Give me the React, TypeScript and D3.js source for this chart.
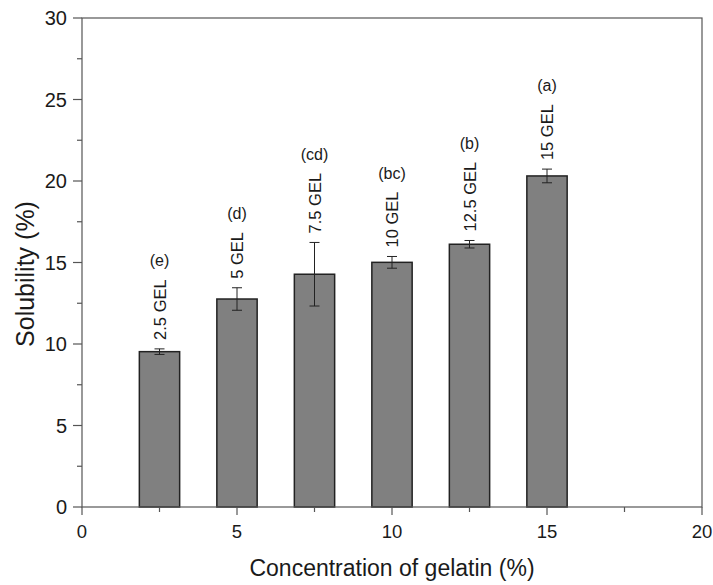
import React, { useEffect, useRef } from "react";
import * as d3 from "d3";

// data
const concentrations = [2.5, 5, 7.5, 10, 12.5, 15];
const solubility = [9.53, 12.76, 14.28, 15.01, 16.12, 20.31];
const errors = [0.17, 0.69, 1.95, 0.36, 0.23, 0.42];
const barNames = ["2.5 GEL", "5 GEL", "7.5 GEL", "10 GEL", "12.5 GEL", "15 GEL"];
const groups = ["(e)", "(d)", "(cd)", "(bc)", "(b)", "(a)"];
const xTicks = [0, 5, 10, 15, 20];
const yTicks = [0, 5, 10, 15, 20, 25, 30];

const W = 713;
const H = 585;
const left = 82;
const right = 702;
const top = 18;
const bottom = 507;
const font = "'Liberation Sans', Arial, sans-serif";
const axisColor = "#555";
const textColor = "#1a1a1a";

const App = () => {
  const svgRef = useRef<SVGSVGElement>(null);
  const x = d3.scaleLinear().domain([0, 20]).range([left, right]);
  const y = d3.scaleLinear().domain([0, 30]).range([bottom, top]);
  const barW = x(1.3) - x(0);

  const xMinor = d3.range(2.5, 20, 5);
  const yMinor = d3.range(2.5, 30, 5);

  // put the group letter just above its rotated label, using the real text length
  useEffect(() => {
    const svg = d3.select(svgRef.current);
    svg.selectAll<SVGGElement, unknown>("g.lbl").each(function () {
      const g = d3.select(this);
      const name = g.select<SVGTextElement>("text.name").node();
      const base = +g.attr("data-base");
      const len = name ? name.getComputedTextLength() : 50;
      g.select("text.grp").attr("y", base - len - 13);
    });
  }, []);

  return (
    <svg ref={svgRef} width={W} height={H} style={{ position: "absolute", left: 0, top: 0, background: "#fff" }}>
      {/* bars */}
      {concentrations.map((c, i) => (
        <rect
          key={"b" + i}
          x={x(c) - barW / 2}
          y={y(solubility[i])}
          width={barW}
          height={y(0) - y(solubility[i])}
          fill="#808080"
          stroke="#222"
          strokeWidth={1.5}
        />
      ))}
      {/* error bars */}
      {concentrations.map((c, i) => {
        const hi = y(solubility[i] + errors[i]);
        const lo = y(solubility[i] - errors[i]);
        return (
          <g key={"e" + i} stroke="#222" strokeWidth={1}>
            <line x1={x(c)} x2={x(c)} y1={hi} y2={lo} />
            <line x1={x(c) - 5} x2={x(c) + 5} y1={hi} y2={hi} />
            <line x1={x(c) - 5} x2={x(c) + 5} y1={lo} y2={lo} />
          </g>
        );
      })}
      {/* rotated bar names and group letters */}
      {concentrations.map((c, i) => {
        const base = y(solubility[i] + errors[i]) - 9;
        return (
          <g key={"t" + i} className="lbl" data-base={base} fill={textColor} fontFamily={font}>
            <text
              className="name"
              transform={`translate(${x(c) + 6},${base}) rotate(-90)`}
              fontSize={16.5}
              textAnchor="start"
            >
              {barNames[i]}
            </text>
            <text className="grp" x={x(c)} y={base - 80} fontSize={16} textAnchor="middle">
              {groups[i]}
            </text>
          </g>
        );
      })}
      {/* frame */}
      <rect x={left} y={top} width={right - left} height={bottom - top} fill="none" stroke={axisColor} strokeWidth={1.2} />
      {/* x ticks */}
      {xTicks.map((t) => (
        <g key={"xt" + t}>
          <line x1={x(t)} x2={x(t)} y1={bottom} y2={bottom + 8} stroke={axisColor} strokeWidth={1.2} />
          <text x={x(t)} y={bottom + 31} fontSize={18.5} fontFamily={font} fill={textColor} textAnchor="middle">
            {t}
          </text>
        </g>
      ))}
      {xMinor.map((t) => (
        <line key={"xm" + t} x1={x(t)} x2={x(t)} y1={bottom} y2={bottom + 5} stroke={axisColor} strokeWidth={1.2} />
      ))}
      {/* y ticks */}
      {yTicks.map((t) => (
        <g key={"yt" + t}>
          <line x1={left - 9} x2={left} y1={y(t)} y2={y(t)} stroke={axisColor} strokeWidth={1.2} />
          <text x={left - 15} y={y(t) + 7} fontSize={20} fontFamily={font} fill={textColor} textAnchor="end">
            {t}
          </text>
        </g>
      ))}
      {yMinor.map((t) => (
        <line key={"ym" + t} x1={left - 5} x2={left} y1={y(t)} y2={y(t)} stroke={axisColor} strokeWidth={1.2} />
      ))}
      {/* axis titles */}
      <text x={(left + right) / 2} y={576} fontSize={23} fontFamily={font} fill={textColor} textAnchor="middle">
        Concentration of gelatin (%)
      </text>
      <text
        transform={`translate(34,274) rotate(-90)`}
        fontSize={25}
        fontFamily={font}
        fill={textColor}
        textAnchor="middle"
      >
        Solubility (%)
      </text>
    </svg>
  );
};

export default App;
